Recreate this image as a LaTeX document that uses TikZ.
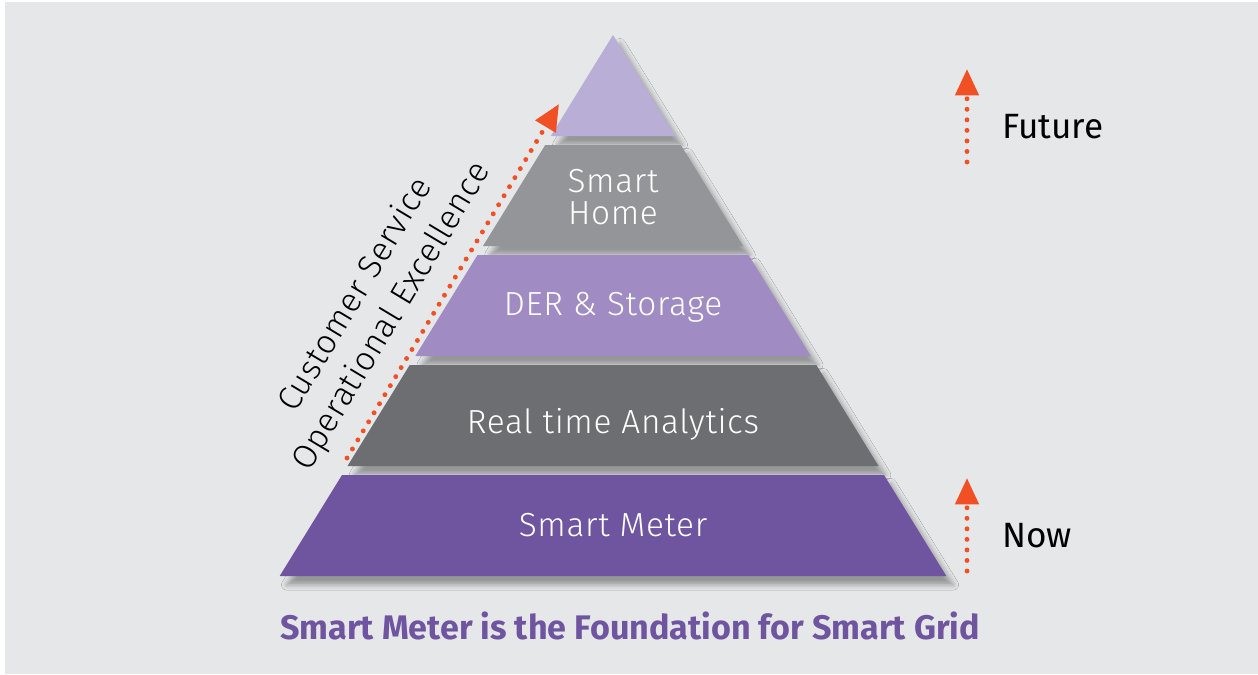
\documentclass[tikz,border=0pt]{standalone}
\usepackage{fontspec}
\setmainfont{Fira Sans}
\newfontfamily\lightfont{Fira Sans Light}[LetterSpace=2]
\usetikzlibrary{arrows.meta}
\usetikzlibrary{shadows.blur}
\usetikzlibrary{positioning}
\definecolor{background}{RGB}{230, 231, 232}
\definecolor{lavender}{RGB}{185, 174, 214}
\definecolor{lightgray}{RGB}{147, 149, 152}
\definecolor{flieder}{RGB}{160, 139, 195}
\definecolor{darkgray}{RGB}{109, 110, 113}
\definecolor{purple}{RGB}{111, 85, 160}
\definecolor{orange}{RGB}{241, 80, 37}

\begin{document}
\begin{tikzpicture}[x=0.02cm, y=-0.02cm,
  level/.style={blur shadow={shadow xshift=4pt, shadow yshift=-5pt, shadow blur radius=3pt, shadow opacity=35}},
  label/.style={text=white, font=\lightfont\fontsize{19}{18}\selectfont, align=center},
  trend/.style={orange, line width=2.8pt, line cap=round, dash pattern=on 0pt off 6pt, -{Triangle[length=15pt, width=13pt, line cap=butt]}}]

\useasboundingbox (0,0) rectangle (1258,674);
\fill[background] (5,2) rectangle (1258,674);

% pyramid, top to bottom
\fill[lavender, level] (613,35) -- (675.2,136) -- (550.8,136) -- cycle;
\fill[lightgray, level] (545.2,145) -- (680.8,145) -- (743,246) -- (483,246) -- cycle;
\fill[flieder, level] (477.5,255) -- (748.5,255) -- (810.7,356) -- (415.3,356) -- cycle;
\fill[darkgray, level] (409.7,365) -- (816.3,365) -- (878.5,466) -- (347.5,466) -- cycle;
\fill[purple, level] (342,475) -- (884,475) -- (946.3,576) -- (279.7,576) -- cycle;

\node[label](home) at (613,197) {Smart\\Home};
\node[label](der) at (613,307) {DER \& Storage};
\node[label](rta) at (613,424) {Real time Analytics};
\node[label](meter) at (613,525) {Smart Meter};

% left trend
\coordinate (trendstart) at (347,458);
\coordinate (trendend) at (559,104);
\draw[trend] (trendstart) -- (trendend);
\node[font=\lightfont\fontsize{19}{24}\selectfont, align=center, rotate=59](excellence) at (374,306) {Customer Service\\Operational Excellence};

% right scale
\coordinate (futurestart) at (967,162);
\coordinate (futureend) at (967,69);
\coordinate (nowstart) at (967,571);
\coordinate (nowend) at (967,478);
\draw[trend] (futurestart) -- (futureend);
\draw[trend] (nowstart) -- (nowend);
\node[font=\fontsize{20}{22}\selectfont, anchor=west](future) at (996,127) {Future};
\node[font=\fontsize{20}{22}\selectfont, anchor=west](now) at (996,536) {Now};

\node[font=\bfseries\fontsize{19.4}{22}\selectfont, text=purple](caption) at (630,626) {Smart Meter is the Foundation for Smart Grid};

\end{tikzpicture}
\end{document}
